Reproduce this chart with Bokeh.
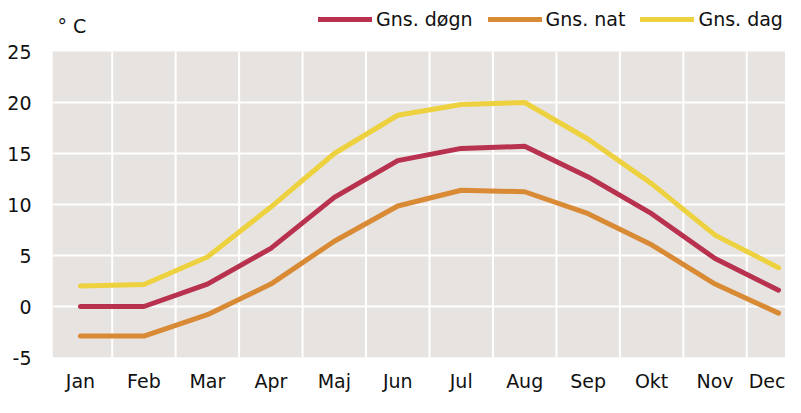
from bokeh.plotting import figure
from bokeh.models import FixedTicker, Legend, LegendItem, Label, BoxAnnotation
from bokeh.embed import file_html
from bokeh.resources import INLINE

months = ["Jan", "Feb", "Mar", "Apr", "Maj", "Jun", "Jul", "Aug", "Sep", "Okt", "Nov", "Dec"]
month_idx = list(range(1, 13))
gns_dogn = [0.0, 0.0, 2.2, 5.7, 10.7, 14.3, 15.5, 15.7, 12.7, 9.1, 4.7, 1.6]
gns_nat = [-2.9, -2.9, -0.8, 2.2, 6.4, 9.85, 11.4, 11.25, 9.1, 6.05, 2.2, -0.65]
gns_dag = [2.0, 2.15, 4.85, 9.75, 15.0, 18.75, 19.8, 20.0, 16.4, 12.05, 7.0, 3.8]
y_ticks = [-5, 0, 5, 10, 15, 20, 25]
unit_label = "° C"

FONT = "DejaVu Sans"
FS = "19px"
INK = "#111111"
PANEL = "#e7e3e0"

y_lo, y_hi = min(y_ticks), max(y_ticks)

p = figure(width=785, height=397, x_range=(0.559, 12.11), y_range=(y_lo, 30),
           output_backend="svg", toolbar_location=None,
           min_border_left=52, min_border_right=0, min_border_top=0, min_border_bottom=40)
p.background_fill_color = "white"
p.border_fill_color = "white"
p.outline_line_color = None

# grey chart panel between the lowest and highest y tick
p.add_layout(BoxAnnotation(bottom=y_lo, top=y_hi, fill_color=PANEL, fill_alpha=1,
                           line_color=None, level="image"))

for ax in (p.xaxis[0], p.yaxis[0]):
    ax.axis_line_color = None
    ax.major_tick_line_color = None
    ax.minor_tick_line_color = None
    ax.major_label_text_font = FONT
    ax.major_label_text_font_size = FS
    ax.major_label_text_color = INK

p.xaxis.ticker = FixedTicker(ticks=month_idx)
p.xaxis.major_label_overrides = {i: m for i, m in zip(month_idx, months)}
p.xaxis.major_label_standoff = 6
p.yaxis.ticker = FixedTicker(ticks=y_ticks)
p.yaxis.major_label_overrides = {t: str(t) for t in y_ticks}
p.yaxis.major_label_standoff = 15

p.xgrid.visible = False
p.ygrid.ticker = FixedTicker(ticks=y_ticks[1:-1])
p.ygrid.grid_line_color = "white"
p.ygrid.grid_line_width = 2

# vertical separators between months, limited to the grey panel
mids = [i + 0.5 for i in month_idx[:-1]]
p.segment(x0=mids, y0=[y_lo] * len(mids), x1=mids, y1=[y_hi] * len(mids),
          line_color="white", line_width=2)

r1 = p.line(month_idx, gns_dogn, line_color="#b8314f", line_width=5, line_cap="round", line_join="round")
r2 = p.line(month_idx, gns_nat, line_color="#d98a35", line_width=5, line_cap="round", line_join="round")
r3 = p.line(month_idx, gns_dag, line_color="#eed13f", line_width=5, line_cap="round", line_join="round")

legend = Legend(items=[LegendItem(label="Gns. døgn", renderers=[r1]),
                       LegendItem(label="Gns. nat", renderers=[r2]),
                       LegendItem(label="Gns. dag", renderers=[r3])],
                orientation="horizontal", location=(266, 327),
                glyph_width=54, glyph_height=20, label_standoff=4, spacing=15,
                padding=0, margin=0, border_line_color=None, background_fill_alpha=0,
                label_text_font=FONT, label_text_font_size=FS, label_text_color=INK)
p.add_layout(legend)

p.add_layout(Label(x=0.638, y=27.5, text=unit_label, text_font=FONT, text_font_size=FS,
                   text_baseline="alphabetic", text_color=INK))

open("out.html", "w").write(file_html(p, INLINE))
